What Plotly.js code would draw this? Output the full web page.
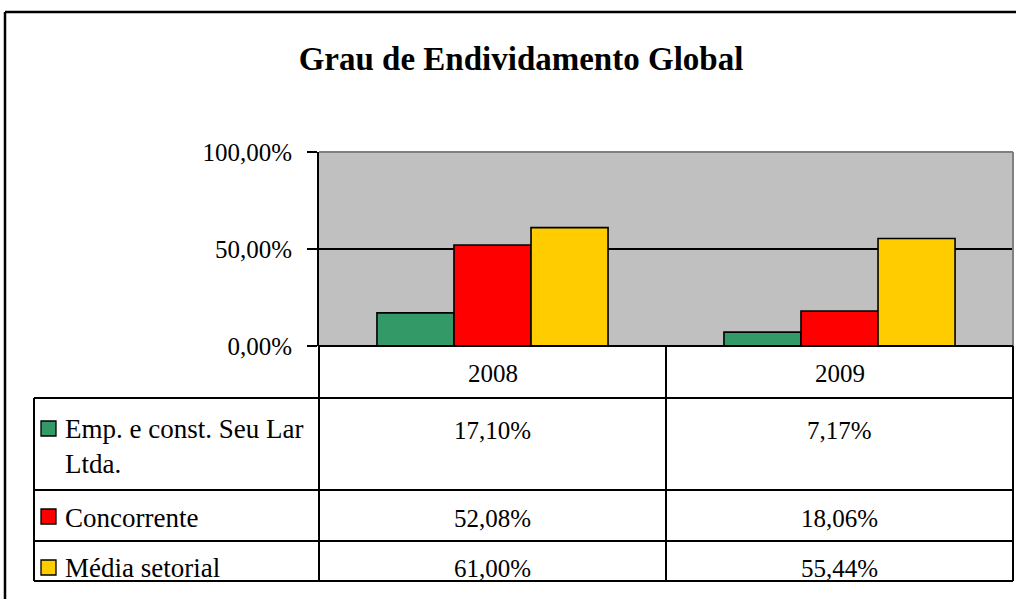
<!DOCTYPE html>
<html>
<head>
<meta charset="utf-8">
<script src="https://cdn.plot.ly/plotly-3.0.1.min.js"></script>
<style>html,body{margin:0;padding:0;background:#fff;}#chart{width:1016px;height:599px;}</style>
</head>
<body>
<div id="chart"></div>
<script>
const years = ['2008', '2009'];
const seriesNames = ['Emp. e const. Seu Lar Ltda.', 'Concorrente', 'Média setorial'];
const tableLabels = ['Emp. e const. Seu Lar<br>Ltda.', 'Concorrente', 'Média setorial'];
const empValues = [0.1710, 0.0717];
const concValues = [0.5208, 0.1806];
const mediaValues = [0.6100, 0.5544];
const seriesColors = ['#339966', '#FF0000', '#FFCC00'];
const yTickVals = [0, 0.5, 1];
const titleText = 'Grau de Endividamento Global';

const W = 1016, H = 599;
const px = x => x / W;
const py = y => 1 - y / H;
const FONT = '"Liberation Serif", "Times New Roman", serif';

const allValues = [empValues, concValues, mediaValues];
const fmt = v => (v * 100).toFixed(2).replace('.', ',') + '%';

const traces = allValues.map((vals, i) => ({
  type: 'bar',
  name: seriesNames[i],
  x: years,
  y: vals,
  marker: {color: seriesColors[i], line: {color: '#000', width: 1.6}},
  hoverinfo: 'none'
}));

// geometry (pixels)
const plotL = 319, plotR = 1013, plotT = 152, plotB = 346;
const colX = [319, 666, 1013];
const tableL = 34;
const rowLines = [398, 490, 541, 581];
const valueY = [430, 518, 568];

const shapes = [];
const line = (x0, y0, x1, y1, color, w) => shapes.push({
  type: 'line', xref: 'paper', yref: 'paper',
  x0: px(x0), y0: py(y0), x1: px(x1), y1: py(y1),
  line: {color: color || '#000', width: w || 2}, layer: 'above'
});

// outer chart border
line(5, 12, 1030, 12, '#000', 2.5);
line(5, 12, 5, 620, '#000', 2.5);
// plot area gray border top/right
line(plotL, plotT, plotR, plotT, '#808080', 2);
line(plotR, plotT, plotR, plotB, '#808080', 2);
// table
line(plotL, plotB, plotR, plotB, '#000', 2);
line(colX[0], plotB, colX[0], rowLines[3], '#000', 2);
line(colX[1], plotB, colX[1], rowLines[3], '#000', 2);
line(colX[2], plotB, colX[2], rowLines[3], '#000', 2);
line(tableL, rowLines[0], tableL, rowLines[3], '#000', 2);
rowLines.forEach(y => line(tableL, y, colX[2], y, '#000', 2));

// legend keys
const keyTop = [421, 509, 560];
seriesColors.forEach((c, i) => shapes.push({
  type: 'rect', xref: 'paper', yref: 'paper',
  x0: px(41), x1: px(56), y0: py(keyTop[i]), y1: py(keyTop[i] + 15),
  fillcolor: c, line: {color: '#000', width: 1.3}, layer: 'above'
}));

const annotations = [];
// header years
years.forEach((yr, j) => annotations.push({
  xref: 'paper', yref: 'paper', x: px((colX[j] + colX[j + 1]) / 2), y: py(373),
  text: yr, showarrow: false, xanchor: 'center', yanchor: 'middle',
  font: {family: FONT, size: 25, color: '#000'}
}));
// row labels
tableLabels.forEach((lab, i) => annotations.push({
  xref: 'paper', yref: 'paper', x: px(63), y: py(i === 0 ? 412 : valueY[i]),
  text: lab, showarrow: false, xanchor: 'left', yanchor: i === 0 ? 'top' : 'middle', align: 'left',
  font: {family: FONT, size: 27, color: '#000'}
}));
// values
allValues.forEach((vals, i) => vals.forEach((v, j) => annotations.push({
  xref: 'paper', yref: 'paper', x: px((colX[j] + colX[j + 1]) / 2), y: py(valueY[i]),
  text: fmt(v), showarrow: false, xanchor: 'center', yanchor: 'middle',
  font: {family: FONT, size: 25, color: '#000'}
})));

const layout = {
  width: W, height: H,
  margin: {l: 0, r: 0, t: 0, b: 0, pad: 0},
  paper_bgcolor: '#fff',
  plot_bgcolor: '#C0C0C0',
  separators: ',.',
  showlegend: false,
  barmode: 'group',
  bargap: 0.334,
  bargroupgap: 0,
  title: {
    text: '<b>' + titleText + '</b>',
    x: px(521), xanchor: 'center', y: py(58), yanchor: 'middle',
    font: {family: FONT, size: 33, color: '#000'}
  },
  xaxis: {
    domain: [px(plotL), px(plotR)],
    type: 'category',
    showticklabels: false,
    ticks: '',
    showgrid: false,
    zeroline: false,
    showline: false,
    fixedrange: true
  },
  yaxis: {
    domain: [py(plotB), py(plotT)],
    range: [0, 1],
    tickvals: yTickVals,
    tickformat: '.2%',
    ticks: 'outside',
    ticklen: 10,
    tickwidth: 2,
    tickcolor: '#000',
    ticklabelstandoff: 10,
    showline: true,
    linecolor: '#000',
    linewidth: 2,
    showgrid: true,
    gridcolor: '#000',
    gridwidth: 2,
    zeroline: false,
    tickfont: {family: FONT, size: 25, color: '#000'},
    fixedrange: true
  },
  shapes: shapes,
  annotations: annotations
};

Plotly.newPlot('chart', traces, layout, {displayModeBar: false, staticPlot: true});
</script>
</body>
</html>
